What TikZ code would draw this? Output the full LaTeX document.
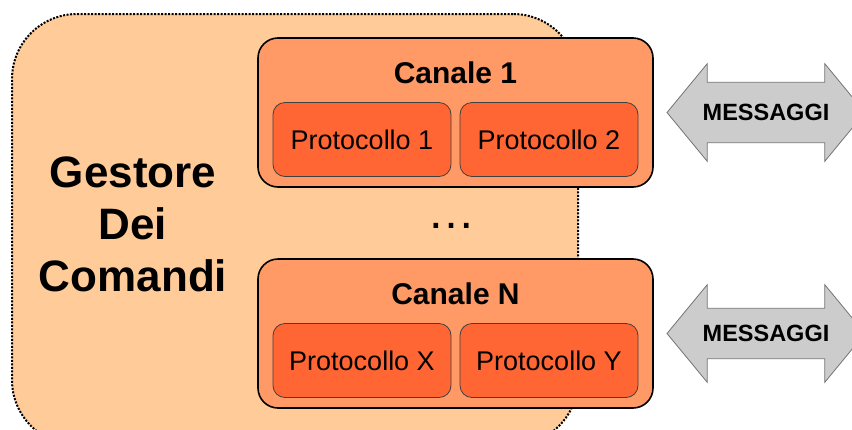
\documentclass[tikz,border=0pt]{standalone}
\usepackage{fontspec}
\setmainfont{Liberation Sans}
\usetikzlibrary{shapes.arrows}

\definecolor{peach}{RGB}{255,204,153}
\definecolor{canalefill}{RGB}{255,153,102}
\definecolor{protofill}{RGB}{255,102,51}
\definecolor{msgfill}{RGB}{204,204,204}

\tikzset{
  gestorebox/.style={draw, line width=2pt, dash pattern=on 2pt off 1.5pt,
    fill=peach, rounded corners=65pt, minimum width=566pt, minimum height=431pt},
  canalebox/.style={draw, line width=1.6pt, fill=canalefill, rounded corners=20pt,
    minimum width=395pt, minimum height=149pt},
  protobox/.style={draw=black!75, line width=0.8pt, fill=protofill, rounded corners=12pt,
    minimum width=178pt, minimum height=74pt, font=\fontsize{27}{32}\selectfont},
  msgarrow/.style={double arrow, draw=black!55, line width=0.8pt, fill=msgfill,
    font=\bfseries\fontsize{23.5}{28}\selectfont, minimum height=198pt,
    double arrow tip angle=101, inner xsep=0pt},
}

\begin{document}
\begin{tikzpicture}[x=1pt, y=-1pt]
  \useasboundingbox (0,0) rectangle (852,429);

  % command manager
  \node[gestorebox] (gestore) at (295,229.5) {};
  \node[font=\bfseries\fontsize{44}{52}\selectfont, align=center, inner sep=0pt]
    (titolo) at (133,224) {Gestore\\Dei\\Comandi};

  % channels, protocols and messages
  \foreach \y/\c/\p/\q/\w [count=\n] in {112.5/1/1/2/21.5, 333.5/N/X/Y/16.5} {
    \node[canalebox] (canale\n) at (455.5,\y) {};
    \node[font=\bfseries\fontsize{30}{36}\selectfont, anchor=base] (nome\n) at (455.5,\y-29.5) {Canale \c};
    \node[protobox] (proto\n a) at (362,\y+27) {Protocollo \p};
    \node[protobox] (proto\n b) at (549,\y+27) {Protocollo \q};
    \node[msgarrow, inner ysep=\w pt, double arrow head extend={(40-\w)*1pt}] (msg\n) at (766,\y) {MESSAGGI};
  }

  % more channels
  \node[font=\fontsize{48}{50}\selectfont] (altri) at (451,226) {…};
\end{tikzpicture}
\end{document}
